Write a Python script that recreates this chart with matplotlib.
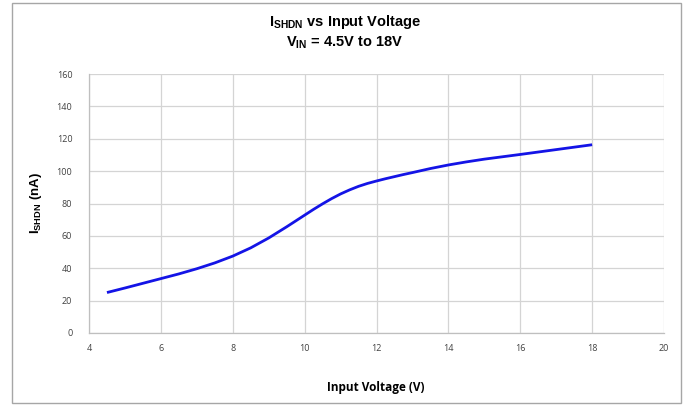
import matplotlib
matplotlib.use("Agg")
import matplotlib.pyplot as plt
from matplotlib.patches import Rectangle

plt.rcParams['mathtext.fontset'] = 'custom'
plt.rcParams['mathtext.rm'] = 'Liberation Sans'
plt.rcParams['mathtext.bf'] = 'Liberation Sans:bold'

voltage = [4.5, 5, 5.5, 6, 6.5, 7, 7.5, 8, 8.5, 9, 9.5, 10, 10.25, 10.5, 10.75, 11,
           11.25, 11.5, 11.75, 12, 12.25, 12.5, 12.75, 13, 13.5, 14, 14.5, 15, 16, 17, 18]
ishdn = [25, 27.8, 30.7, 33.6, 36.5, 39.7, 43.3, 47.5, 52.6, 58.7, 65.6, 72.8, 76.4, 79.8,
         83.0, 85.9, 88.4, 90.6, 92.4, 93.9, 95.3, 96.6, 97.9, 99.1, 101.6, 103.8, 105.7,
         107.4, 110.3, 113.3, 116.3]

xticks = [4, 6, 8, 10, 12, 14, 16, 18, 20]
yticks = [0, 20, 40, 60, 80, 100, 120, 140, 160]

W, H = 688, 405
fig = plt.figure(figsize=(W / 100, H / 100), dpi=100)
ax = fig.add_axes([89 / W, 1 - 333 / H, (664 - 89) / W, (333 - 74) / H])

ax.plot(voltage, ishdn, color='#1414e6', lw=2.0, solid_capstyle='butt', solid_joinstyle='round')

ax.set_xlim(4, 20)
ax.set_ylim(0, 160)
ax.set_xticks(xticks)
ax.set_yticks(yticks)
ax.set_xticklabels([str(t) for t in xticks], fontfamily='Open Sans', fontsize=6.5, color='#404040')
ax.set_yticklabels([str(t) for t in yticks], fontfamily='Open Sans', fontsize=6.5, color='#404040')
ax.tick_params(length=0, pad=8)
ax.tick_params(axis='y', pad=12)
ax.grid(True, color='#d4d4d4', lw=0.9)
ax.set_axisbelow(True)
for s in ['top', 'right']:
    ax.spines[s].set_visible(False)
for s in ['left', 'bottom']:
    ax.spines[s].set_color('#bfbfbf')
    ax.spines[s].set_linewidth(0.9)

fig.text(345 / W, 1 - 22 / H, r'$\mathbf{I_{SHDN}}$ vs Input Voltage', ha='center', va='center',
         fontfamily='Liberation Sans', fontweight='bold', fontsize=10.5)
fig.text(345 / W, 1 - 43 / H, r'$\mathbf{V_{IN}}$ = 4.5V to 18V', ha='center', va='center',
         fontfamily='Liberation Sans', fontweight='bold', fontsize=10.5)

fig.text(376 / W, 1 - 388 / H, 'Input Voltage (V)', ha='center', va='center',
         fontfamily='Open Sans', fontweight='bold', fontsize=8.5)
fig.text(36 / W, 1 - 203 / H, r'$\mathbf{I_{SHDN}}$ (nA)', ha='center', va='center', rotation=90,
         fontfamily='Liberation Sans', fontweight='bold', fontsize=9.5)

fig.patches.append(Rectangle((12 / W, 1 - 403 / H), (681 - 12) / W, (403 - 3) / H,
                             transform=fig.transFigure, fill=False, edgecolor='#a6a6a6', lw=1.0))

fig.savefig('out.png', dpi=100)
